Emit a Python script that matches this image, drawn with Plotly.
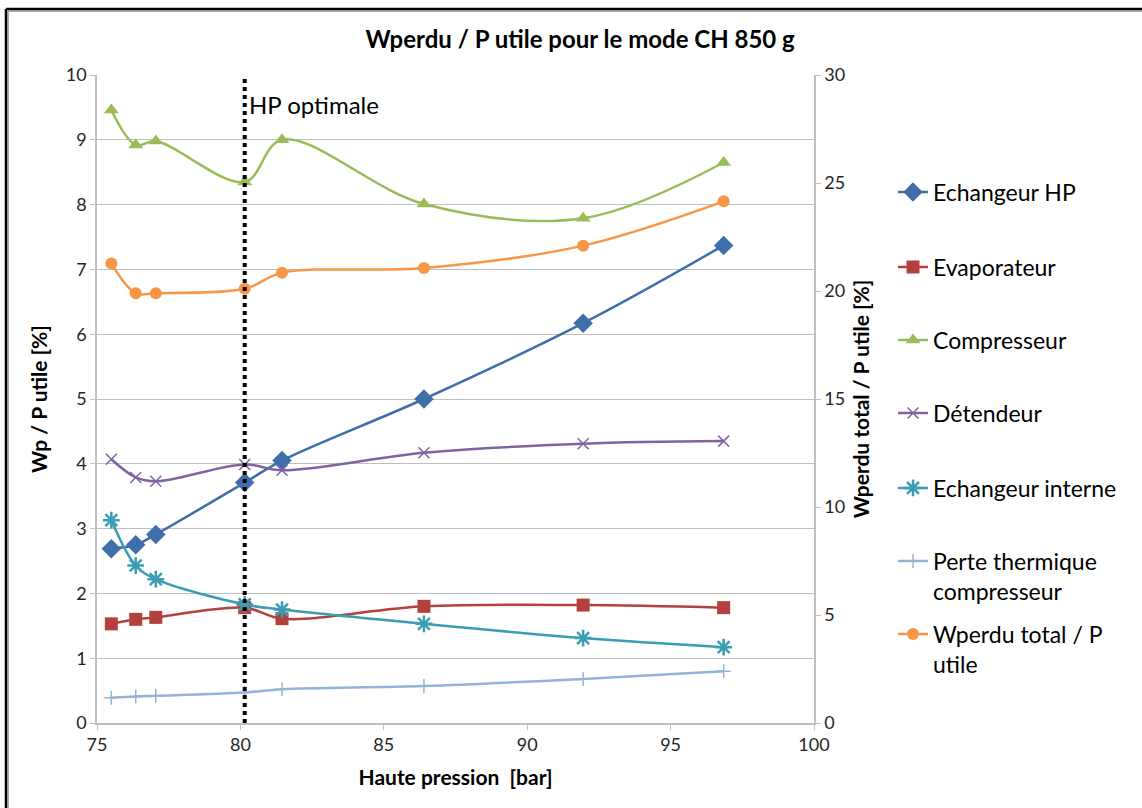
import plotly.graph_objects as go

# ---- data ----
pression = [75.5, 76.35, 77.05, 80.15, 81.45, 86.4, 91.95, 96.85]
echangeur_hp = [2.69, 2.75, 2.91, 3.71, 4.05, 5.00, 6.17, 7.37]
evaporateur = [1.53, 1.60, 1.63, 1.78, 1.61, 1.80, 1.82, 1.78]
compresseur = [9.46, 8.92, 8.98, 8.35, 9.00, 8.01, 7.79, 8.65]
detendeur = [4.07, 3.79, 3.73, 3.99, 3.90, 4.17, 4.31, 4.35]
echangeur_interne = [3.13, 2.43, 2.22, 1.83, 1.75, 1.53, 1.31, 1.17]
perte_thermique = [0.39, 0.41, 0.42, 0.47, 0.52, 0.57, 0.68, 0.80]
wperdu_total = [21.27, 19.90, 19.90, 20.10, 20.84, 21.06, 22.10, 24.15]
hp_optimale = 80.15

x_ticks = [75, 80, 85, 90, 95, 100]
y_ticks = list(range(0, 11))
y2_ticks = [0, 5, 10, 15, 20, 25, 30]

FONT = "Lato"

series = [
    ("Echangeur HP", echangeur_hp, "#3F6FAA", dict(symbol="diamond", size=15), "y"),
    ("Evaporateur", evaporateur, "#B3403D", dict(symbol="square", size=13), "y"),
    ("Compresseur", compresseur, "#9BBB59", dict(symbol="triangle-up", size=13), "y"),
    ("Détendeur", detendeur, "#8064A2", dict(symbol="x-thin-open", size=11, line=dict(width=1.5, color="#8064A2")), "y"),
    ("Echangeur interne", echangeur_interne, "#3A9DB3", dict(symbol="asterisk-open", size=14, line=dict(width=2.5, color="#3A9DB3")), "y"),
    ("Perte thermique<br>compresseur", perte_thermique, "#95B3D7", dict(symbol="cross-thin-open", size=10, line=dict(width=1.5, color="#95B3D7")), "y"),
    ("Wperdu total / P<br>utile", wperdu_total, "#F79646", dict(symbol="circle", size=12), "y2"),
]

# plot area in pixels
L, R, T, B = 97, 814, 75, 723
W, H = R - L, B - T

def px(xp):
    return (xp - L) / W

def py(yp):
    return (B - yp) / H

legend_centers = [192, 267, 340, 413, 488, 576, 649]

fig = go.Figure()
for i, (name, vals, color, marker, yax) in enumerate(series):
    mk = dict(color=color)
    mk.update(marker)
    lg = "legend" if i == 0 else f"legend{i+1}"
    fig.add_trace(go.Scatter(
        x=pression, y=vals, name=name, yaxis=yax,
        mode="lines+markers",
        line=dict(color=color, width=2.5, shape="spline", smoothing=1.0),
        marker=mk, legend=lg,
    ))

legend_common = dict(
    x=px(893), xanchor="left", yanchor="middle", valign="top",
    font=dict(family=FONT, size=23, color="#000000"),
    bgcolor="rgba(0,0,0,0)", borderwidth=0,
)
legends = {}
for i, c in enumerate(legend_centers):
    key = "legend" if i == 0 else f"legend{i+1}"
    d = dict(legend_common)
    d["y"] = py(c)
    legends[key] = d

fig.update_layout(
    width=1142, height=808,
    margin=dict(l=L, r=1142 - R, t=T, b=808 - B),
    paper_bgcolor="white", plot_bgcolor="white",
    font=dict(family=FONT, size=18, color="#262626"),
    title=dict(text="<b>Wperdu / P utile pour le mode CH 850 g</b>",
               x=0.508, xanchor="center", y=1 - 40 / 808, yanchor="middle",
               font=dict(family=FONT, size=24, color="#000000")),
    showlegend=True,
    xaxis=dict(range=[75, 100], tickvals=x_ticks, showgrid=False, zeroline=False,
               showline=True, linecolor="#BFBFBF", linewidth=1.5,
               ticks="outside", ticklen=5, tickcolor="#BFBFBF",
               tickfont=dict(family=FONT, size=18, color="#262626"),
               title=dict(text="<b>Haute pression  [bar]</b>", standoff=16,
                          font=dict(family=FONT, size=21, color="#000000"))),
    yaxis=dict(range=[0, 10], tickvals=y_ticks, showgrid=True, gridcolor="#BFBFBF",
               gridwidth=1.2, zeroline=False, showline=True, linecolor="#BFBFBF",
               linewidth=1.5, ticks="outside", ticklen=5, tickcolor="#BFBFBF",
               tickfont=dict(family=FONT, size=18, color="#262626"),
               title=dict(text="<b>Wp / P utile [%]</b>", standoff=12,
                          font=dict(family=FONT, size=21, color="#000000"))),
    yaxis2=dict(range=[0, 30], tickvals=y2_ticks, overlaying="y", side="right",
                showgrid=False, zeroline=False, showline=True, linecolor="#BFBFBF",
                linewidth=1.5, ticks="outside", ticklen=5, tickcolor="#BFBFBF",
                tickfont=dict(family=FONT, size=18, color="#262626"),
                title=dict(text="<b>Wperdu total / P utile [%]</b>", standoff=10,
                           font=dict(family=FONT, size=21, color="#000000"))),
    **legends,
)

# optimal HP dotted line
fig.add_shape(type="line", xref="x", yref="y", x0=hp_optimale, x1=hp_optimale,
              y0=0, y1=10, line=dict(color="black", width=4, dash="dot"))
fig.add_annotation(x=hp_optimale, y=9.55, xref="x", yref="y", text="HP optimale",
                   showarrow=False, xanchor="left", xshift=2,
                   font=dict(family=FONT, size=24, color="#000000"))

# chart outer border (top and left edges visible)
fig.add_shape(type="line", xref="paper", yref="paper",
              x0=px(6), x1=px(1150), y0=py(9), y1=py(9),
              line=dict(color="#000000", width=2.5))
fig.add_shape(type="line", xref="paper", yref="paper",
              x0=px(6), x1=px(6), y0=py(9), y1=py(820),
              line=dict(color="#000000", width=2.5))
fig.add_shape(type="line", xref="paper", yref="paper",
              x0=px(8), x1=px(1150), y0=py(11), y1=py(11),
              line=dict(color="#8C8C8C", width=1.5))
fig.add_shape(type="line", xref="paper", yref="paper",
              x0=px(8), x1=px(8), y0=py(11), y1=py(820),
              line=dict(color="#8C8C8C", width=1.5))

fig.write_html("out.html", config={"displayModeBar": False},
               post_script="document.body.style.margin='0';document.body.style.overflow='hidden';")
